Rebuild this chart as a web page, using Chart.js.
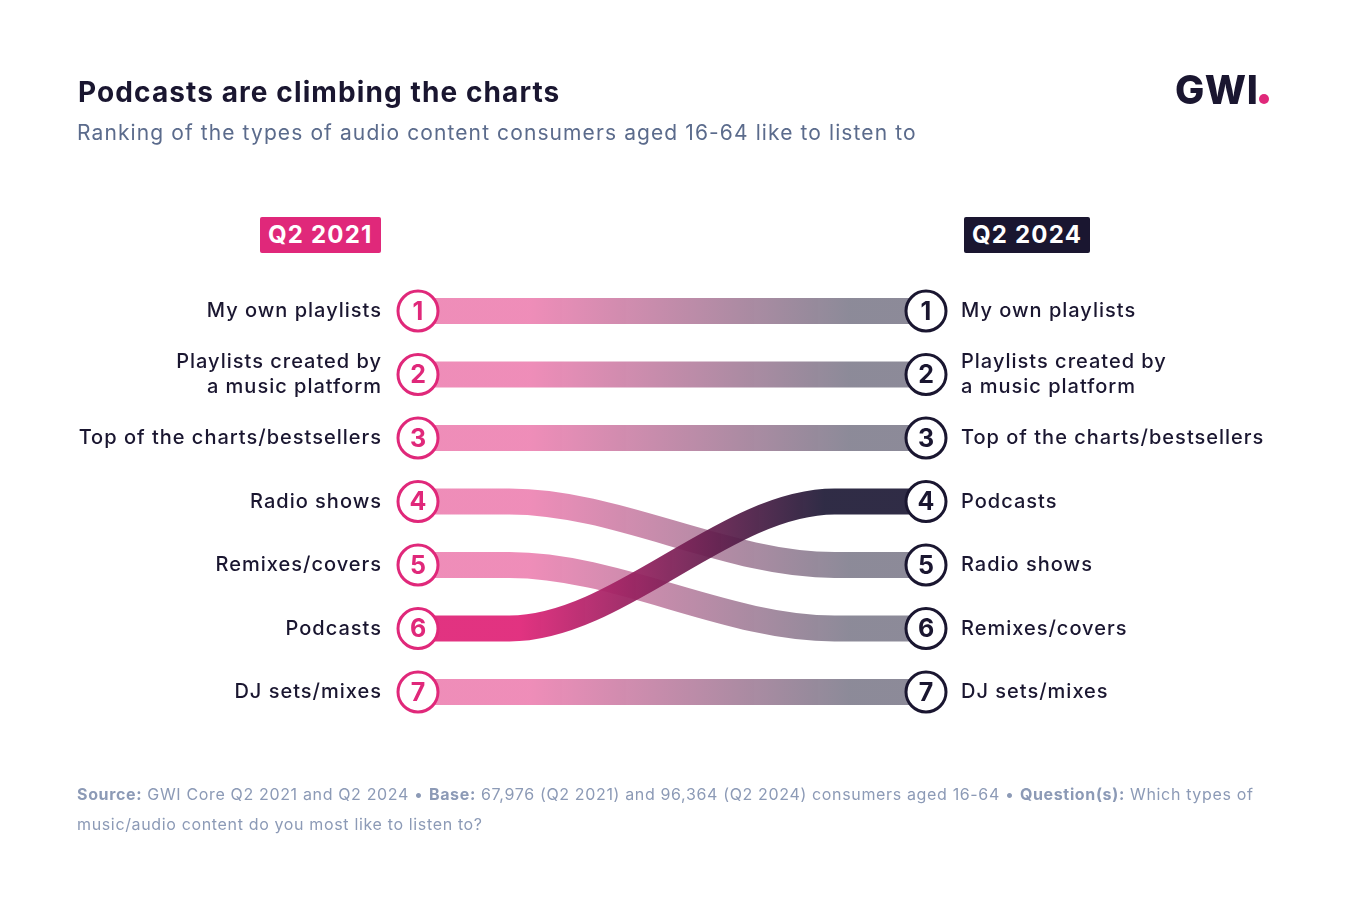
<!DOCTYPE html>
<html>
<head>
<meta charset="utf-8">
<script src="https://cdn.jsdelivr.net/npm/chart.js@4"></script>
<style>
  html, body { margin: 0; padding: 0; background: #fff; }
  body { width: 1351px; height: 915px; position: relative; overflow: hidden; font-family: Inter, "Open Sans", sans-serif; }
  #wrap { position: absolute; left: 0; top: 0; width: 1351px; height: 915px; }
  .title { position: absolute; left: 78px; top: 75px; font-size: 28px; font-weight: 700; color: #1a1630; letter-spacing: 1.1px; }
  .subtitle { position: absolute; left: 77px; top: 120px; font-size: 21px; color: #5b6b8c; letter-spacing: 1.1px; }
  .logo { position: absolute; left: 1175px; top: 66px; font-size: 39px; font-weight: 800; color: #1a1630; letter-spacing: 0.5px; }
  .logo span { display: inline-block; width: 10px; height: 10px; border-radius: 5px; background: #e0287a; margin-left: 1px; }
  .badge { position: absolute; top: 217px; height: 36px; line-height: 36px; padding: 0 8px; font-size: 24px; font-weight: 700; color: #fff; border-radius: 2px; letter-spacing: 1.2px; }
  .b1 { left: 260px; background: #e0287a; }
  .b2 { left: 964px; background: #1a1630; }
  .footer { position: absolute; left: 77px; top: 779px; font-size: 16px; line-height: 30px; color: #8c9ab6; white-space: nowrap; letter-spacing: 0.65px; }
  .footer b { font-weight: 700; }
</style>
</head>
<body>
<div id="wrap"><canvas id="bumpChart" width="1351" height="915"></canvas></div>
<div class="title">Podcasts are climbing the charts</div>
<div class="subtitle">Ranking of the types of audio content consumers aged 16-64 like to listen to</div>
<div class="logo">GWI<span></span></div>
<div class="badge b1" id="p1"></div>
<div class="badge b2" id="p2"></div>
<div class="footer"><b>Source:</b> GWI Core Q2 2021 and Q2 2024 • <b>Base:</b> 67,976 (Q2 2021) and 96,364 (Q2 2024) consumers aged 16-64 • <b>Question(s):</b> Which types of<br>music/audio content do you most like to listen to?</div>

<script>
// data
var periods = ['Q2 2021', 'Q2 2024'];
var categories = ['My own playlists', 'Playlists created by\na music platform', 'Top of the charts/bestsellers', 'Radio shows', 'Remixes/covers', 'Podcasts', 'DJ sets/mixes'];
var rank2021 = [1, 2, 3, 4, 5, 6, 7];
var rank2024 = [1, 2, 3, 5, 6, 4, 7];
var highlight = 'Podcasts';

document.getElementById('p1').innerText = periods[0];
document.getElementById('p2').innerText = periods[1];

var PINK = '#e0287a', NAVY = '#1a1630';

// x positions along the connector: start, end of flat, start of flat, end
var steps = [0, 0.18, 0.82, 1];

function lineGradient(hl) {
    return function (ctx) {
        var ca = ctx.chart.chartArea;
        if (!ca) return hl ? PINK : 'rgba(224,40,122,0.53)';
        var g = ctx.chart.ctx.createLinearGradient(ca.left, 0, ca.right, 0);
        if (hl) {
            g.addColorStop(0, 'rgba(224,40,122,0.95)');
            g.addColorStop(0.2, 'rgba(224,40,122,0.95)');
            g.addColorStop(0.8, 'rgba(30,26,54,0.92)');
            g.addColorStop(1, 'rgba(30,26,54,0.92)');
        } else {
            g.addColorStop(0, 'rgba(224,40,122,0.53)');
            g.addColorStop(0.22, 'rgba(224,40,122,0.53)');
            g.addColorStop(0.85, 'rgba(30,26,54,0.51)');
            g.addColorStop(1, 'rgba(30,26,54,0.51)');
        }
        return g;
    };
}

var datasets = categories.map(function (name, i) {
    var hl = name === highlight;
    var ranks = [rank2021[i], rank2021[i], rank2024[i], rank2024[i]];
    return {
        label: name,
        data: steps.map(function (x, k) { return { x: x, y: ranks[k] }; }),
        borderColor: lineGradient(hl),
        borderWidth: 26,
        borderCapStyle: 'butt',
        cubicInterpolationMode: 'monotone',
        pointRadius: [20, 0, 0, 20],
        pointHoverRadius: [20, 0, 0, 20],
        pointBackgroundColor: '#ffffff',
        pointBorderColor: [PINK, PINK, NAVY, NAVY],
        pointBorderWidth: 3,
        order: hl ? -1 : i,
        clip: false
    };
});

var labelPlugin = {
    id: 'bumpLabels',
    afterDatasetsDraw: function (chart) {
        var ctx = chart.ctx;
        var xs = chart.scales.x, ys = chart.scales.y;
        ctx.save();
        categories.forEach(function (name, i) {
            var y1 = ys.getPixelForValue(rank2021[i]);
            var y2 = ys.getPixelForValue(rank2024[i]);
            var x1 = xs.getPixelForValue(0), x2 = xs.getPixelForValue(1);
            // rank numbers
            ctx.letterSpacing = '0px';
            ctx.font = '700 25px Inter, sans-serif';
            ctx.textAlign = 'center';
            ctx.textBaseline = 'middle';
            ctx.fillStyle = PINK;
            ctx.fillText(String(rank2021[i]), x1, y1 + 1);
            ctx.fillStyle = NAVY;
            ctx.fillText(String(rank2024[i]), x2, y2 + 1);
            // category labels
            ctx.letterSpacing = '1px';
            ctx.font = '500 20px Inter, sans-serif';
            ctx.fillStyle = '#1a1630';
            var lines = name.split('\n');
            lines.forEach(function (ln, k) {
                var off = (k - (lines.length - 1) / 2) * 25;
                ctx.textAlign = 'right';
                ctx.fillText(ln, x1 - 36, y1 + off);
                ctx.textAlign = 'left';
                ctx.fillText(ln, x2 + 35, y2 + off);
            });
        });
        ctx.restore();
    }
};

var ctx = document.getElementById('bumpChart').getContext('2d');
window.bumpChart = new Chart(ctx, {
    type: 'line',
    data: { datasets: datasets },
    options: {
        responsive: false,
        animation: false,
        events: [],
        layout: { padding: { left: 418, right: 425, top: 311, bottom: 223 } },
        plugins: { legend: { display: false }, tooltip: { enabled: false } },
        scales: {
            x: { type: 'linear', min: 0, max: 1, display: false },
            y: { type: 'linear', min: 1, max: 7, reverse: true, display: false }
        }
    },
    plugins: [labelPlugin]
});
</script>
</body>
</html>
